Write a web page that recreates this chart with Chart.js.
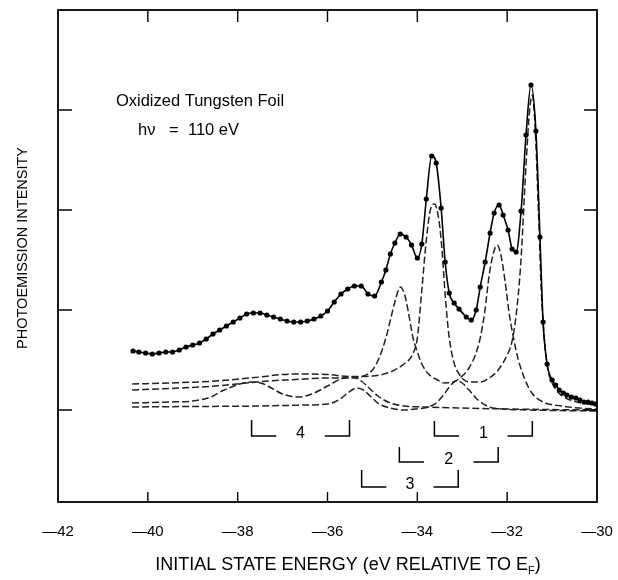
<!DOCTYPE html>
<html>
<head>
<meta charset="utf-8">
<script src="https://cdn.jsdelivr.net/npm/chart.js@4.4.1/dist/chart.umd.min.js"></script>
<style>
  html, body { margin: 0; padding: 0; background: #fff; }
  #wrap { width: 618px; height: 580px; }
</style>
</head>
<body>
<div id="wrap"><canvas id="spectrumChart" width="618" height="580"></canvas></div>
<script>
// measured W 4f spectrum (dots + solid fit)
const dataEnergy = [-40.33,-40.2,-40.05,-39.9,-39.75,-39.6,-39.45,-39.3,-39.15,-39.0,
  -38.85,-38.7,-38.55,-38.4,-38.25,-38.1,-37.95,-37.8,-37.65,-37.5,
  -37.35,-37.2,-37.05,-36.9,-36.75,-36.6,-36.45,-36.3,-36.15,-36.0,
  -35.85,-35.7,-35.55,-35.4,-35.25,-35.1,-34.95,-34.8,-34.7,-34.6,
  -34.5,-34.38,-34.25,-34.13,-34.0,-33.9,-33.8,-33.68,-33.58,-33.47,
  -33.38,-33.29,-33.18,-33.07,-32.91,-32.8,-32.69,-32.6,-32.49,-32.38,
  -32.29,-32.18,-32.09,-31.98,-31.89,-31.8,-31.69,-31.58,-31.47,-31.36,
  -31.27,-31.2,-31.11,-31.0,-30.92,-30.84,-30.75,-30.67,-30.57,-30.47,
  -30.38,-30.29,-30.2,-30.11,-30.03];
const dataIntensity = [0.59,0.58,0.57,0.56,0.57,0.58,0.58,0.60,0.63,0.65,
  0.67,0.71,0.76,0.80,0.84,0.88,0.92,0.96,0.97,0.97,
  0.95,0.93,0.91,0.89,0.88,0.88,0.89,0.91,0.94,0.99,
  1.08,1.16,1.21,1.24,1.24,1.16,1.14,1.28,1.40,1.56,
  1.67,1.76,1.73,1.65,1.52,1.66,2.11,2.54,2.47,2.02,
  1.48,1.17,1.07,1.01,0.93,0.90,1.00,1.23,1.48,1.77,
  1.97,2.05,1.95,1.80,1.61,1.58,1.99,2.75,3.25,2.79,
  1.73,0.88,0.46,0.30,0.25,0.20,0.17,0.15,0.13,0.12,
  0.10,0.08,0.08,0.07,0.06];

// fitted doublets (dashed)
const fit1Energy = [-40.35,-39.5,-38.5,-37.5,-37.0,-36.5,-36.0,-35.5,-35.0,-34.6,
  -34.3,-34.1,-34.0,-33.9,-33.8,-33.7,-33.62,-33.52,-33.45,-33.38,
  -33.3,-33.2,-33.07,-32.85,-32.6,-32.4,-32.2,-32.0,-31.9,-31.8,
  -31.7,-31.58,-31.5,-31.44,-31.38,-31.3,-31.24,-31.18,-31.1,-31.0,
  -30.85,-30.7,-30.45,-30.2,-30.0];
const fit1Intensity = [0.26,0.27,0.29,0.33,0.355,0.36,0.355,0.335,0.34,0.38,
  0.46,0.56,0.72,1.2,1.7,2.02,2.06,1.9,1.6,1.15,
  0.76,0.5,0.36,0.28,0.28,0.32,0.40,0.55,0.67,0.95,
  1.45,2.45,3.0,3.15,2.85,1.95,1.2,0.75,0.42,0.27,
  0.17,0.12,0.08,0.06,0.05];

const fit2Energy = [-40.35,-39.5,-38.5,-37.8,-37.3,-36.5,-36.0,-35.5,-35.2,-35.0,
  -34.85,-34.7,-34.6,-34.5,-34.38,-34.28,-34.2,-34.1,-34.0,-33.9,
  -33.75,-33.55,-33.4,-33.2,-33.0,-32.85,-32.7,-32.6,-32.5,-32.4,
  -32.3,-32.22,-32.14,-32.05,-31.95,-31.85,-31.75,-31.6,-31.45,-31.2,
  -30.8,-30.4,-30.0];
const fit2Intensity = [0.20,0.215,0.24,0.27,0.29,0.31,0.32,0.32,0.34,0.40,
  0.52,0.72,0.9,1.08,1.23,1.15,0.98,0.73,0.58,0.46,
  0.36,0.30,0.27,0.28,0.34,0.42,0.56,0.72,0.98,1.35,
  1.58,1.65,1.55,1.3,0.95,0.7,0.5,0.3,0.17,0.08,
  0.04,0.02,0.01];

const fit3Energy = [-40.35,-39.0,-37.5,-36.5,-36.0,-35.75,-35.55,-35.35,-35.2,-35.05,
  -34.85,-34.6,-34.3,-34.05,-33.75,-33.58,-33.4,-33.29,-33.13,-33.0,
  -32.85,-32.65,-32.4,-32.1,-31.5,-30.0];
const fit3Intensity = [0.03,0.035,0.04,0.05,0.06,0.10,0.17,0.22,0.20,0.14,
  0.06,0.02,0.0,0.01,0.03,0.07,0.16,0.23,0.29,0.27,
  0.2,0.1,0.03,0.01,0.0,-0.01];

const fit4Energy = [-40.35,-39.5,-39.0,-38.6,-38.3,-37.95,-37.7,-37.45,-37.25,-37.0,
  -36.65,-36.35,-36.0,-35.7,-35.45,-35.25,-35.05,-34.85,-34.6,-34.3,
  -33.8,-33.0,-32.0,-30.0];
const fit4Intensity = [0.07,0.08,0.09,0.13,0.20,0.26,0.28,0.265,0.22,0.16,
  0.13,0.16,0.24,0.31,0.33,0.29,0.21,0.13,0.07,0.04,
  0.03,0.02,0.01,0.0];

// axes
const xTicks = [-42,-40,-38,-36,-34,-32,-30];
const yTickValues = [0,1,2,3];

// doublet brackets (4f5/2 ... 4f7/2)
const doubletLabels = ["1","2","3","4"];
const doubletLow = [-33.62,-34.4,-35.24,-37.69];
const doubletHigh = [-31.44,-32.2,-33.09,-35.51];
const bracketTop = [-0.11,-0.37,-0.60,-0.10];
const bracketBottom = [-0.26,-0.52,-0.77,-0.26];
const bracketArm = 0.55;

const FONT = '"Liberation Sans", Arial, Helvetica, sans-serif';

function pts(xs, ys){
    return xs.map((v,i) => ({x:v, y:ys[i]}));
}

function dashed(xs, ys){
    return {
        data:pts(xs, ys),
        showLine:true,
        borderColor:"#222",
        borderWidth:1.5,
        borderDash:[7,3],
        pointRadius:0,
        cubicInterpolationMode:"monotone"
    };
}

// frame, inward ticks, brackets, texts
const decorations = {
    id:"decorations",
    afterDraw(chart){
        const {ctx, chartArea:a, scales:{x, y}} = chart;
        ctx.save();
        ctx.strokeStyle = "#000";
        ctx.fillStyle = "#000";

        ctx.lineWidth = 1.8;
        ctx.strokeRect(a.left, a.top, a.right - a.left, a.bottom - a.top);

        ctx.lineWidth = 1.4;
        ctx.beginPath();
        xTicks.slice(1, -1).forEach(v => {
            const px = x.getPixelForValue(v);
            ctx.moveTo(px, a.bottom); ctx.lineTo(px, a.bottom - 10);
            ctx.moveTo(px, a.top); ctx.lineTo(px, a.top + 12);
        });
        yTickValues.forEach(v => {
            const py = y.getPixelForValue(v);
            ctx.moveTo(a.left, py); ctx.lineTo(a.left + 14, py);
            ctx.moveTo(a.right, py); ctx.lineTo(a.right - 13, py);
        });
        ctx.stroke();

        // brackets
        ctx.lineWidth = 1.5;
        ctx.font = "16px " + FONT;
        ctx.textAlign = "center";
        ctx.textBaseline = "middle";
        doubletLow.forEach((lo, i) => {
            const xl = x.getPixelForValue(lo);
            const xr = x.getPixelForValue(doubletHigh[i]);
            const arm = x.getPixelForValue(lo + bracketArm) - xl;
            const yt = y.getPixelForValue(bracketTop[i]);
            const yb = y.getPixelForValue(bracketBottom[i]);
            ctx.beginPath();
            ctx.moveTo(xl, yt); ctx.lineTo(xl, yb); ctx.lineTo(xl + arm, yb);
            ctx.moveTo(xr - arm, yb); ctx.lineTo(xr, yb); ctx.lineTo(xr, yt);
            ctx.stroke();
            ctx.fillText(doubletLabels[i], (xl + xr) / 2, yb - 2);
        });

        // sample notes
        ctx.textAlign = "left";
        ctx.font = "16.5px " + FONT;
        ctx.fillText("Oxidized Tungsten Foil", x.getPixelForValue(-40.71), y.getPixelForValue(3.09));
        const hx = x.getPixelForValue(-40.22), hy = y.getPixelForValue(2.80);
        ctx.fillText("h\u03BD", hx, hy);
        ctx.fillText("=", hx + 31, hy);
        ctx.fillText("110 eV", hx + 50, hy);

        // x title with subscript
        const main = "INITIAL STATE ENERGY (eV RELATIVE TO E";
        ctx.font = "18px " + FONT;
        const w1 = ctx.measureText(main).width;
        const w3 = ctx.measureText(")").width;
        ctx.font = "11px " + FONT;
        const w2 = ctx.measureText("F").width;
        let cx = 348 - (w1 + w2 + w3) / 2;
        const ty = 565;
        ctx.font = "18px " + FONT;
        ctx.fillText(main, cx, ty);
        cx += w1;
        ctx.font = "11px " + FONT;
        ctx.fillText("F", cx, ty + 6);
        cx += w2;
        ctx.font = "18px " + FONT;
        ctx.fillText(")", cx, ty);

        ctx.restore();
    }
};

new Chart(document.getElementById("spectrumChart"),{

    type:"scatter",

    data:{

        datasets:[
            {
                data:pts(dataEnergy, dataIntensity),
                showLine:true,
                borderColor:"#000",
                borderWidth:1.6,
                pointRadius:2.6,
                pointBackgroundColor:"#000",
                pointBorderWidth:0,
                cubicInterpolationMode:"monotone"
            },
            dashed(fit1Energy, fit1Intensity),
            dashed(fit2Energy, fit2Intensity),
            dashed(fit3Energy, fit3Intensity),
            dashed(fit4Energy, fit4Intensity)
        ]

    },

    options:{

        responsive:false,
        animation:false,
        devicePixelRatio:1,

        layout:{
            padding:{left:0, right:21, top:10, bottom:0}
        },

        scales:{

            x:{
                type:"linear",
                min:-42,
                max:-30,
                afterBuildTicks:scale => {
                    scale.ticks = xTicks.map(v => ({value:v}));
                },
                ticks:{
                    callback:v => "\u2014" + Math.abs(v),
                    font:{size:15, family:FONT},
                    color:"#000",
                    padding:21,
                    maxRotation:0,
                    autoSkip:false
                },
                grid:{display:false, drawTicks:false},
                border:{display:false},
                afterFit:scale => {
                    scale.height = 78;
                    scale.paddingLeft = 0;
                    scale.paddingRight = 0;
                }
            },

            y:{
                type:"linear",
                min:-0.92,
                max:4.0,
                ticks:{display:false},
                grid:{display:false, drawTicks:false},
                border:{display:false},
                title:{
                    display:true,
                    text:"    PHOTOEMISSION INTENSITY",
                    font:{size:14.5, family:FONT},
                    color:"#000",
                    padding:{top:14, bottom:0}
                },
                afterFit:scale => { scale.width = 58; }
            }

        },

        plugins:{

            legend:{
                display:false
            },

            tooltip:{
                enabled:false
            }

        }

    },

    plugins:[decorations]

});
</script>
</body>
</html>
